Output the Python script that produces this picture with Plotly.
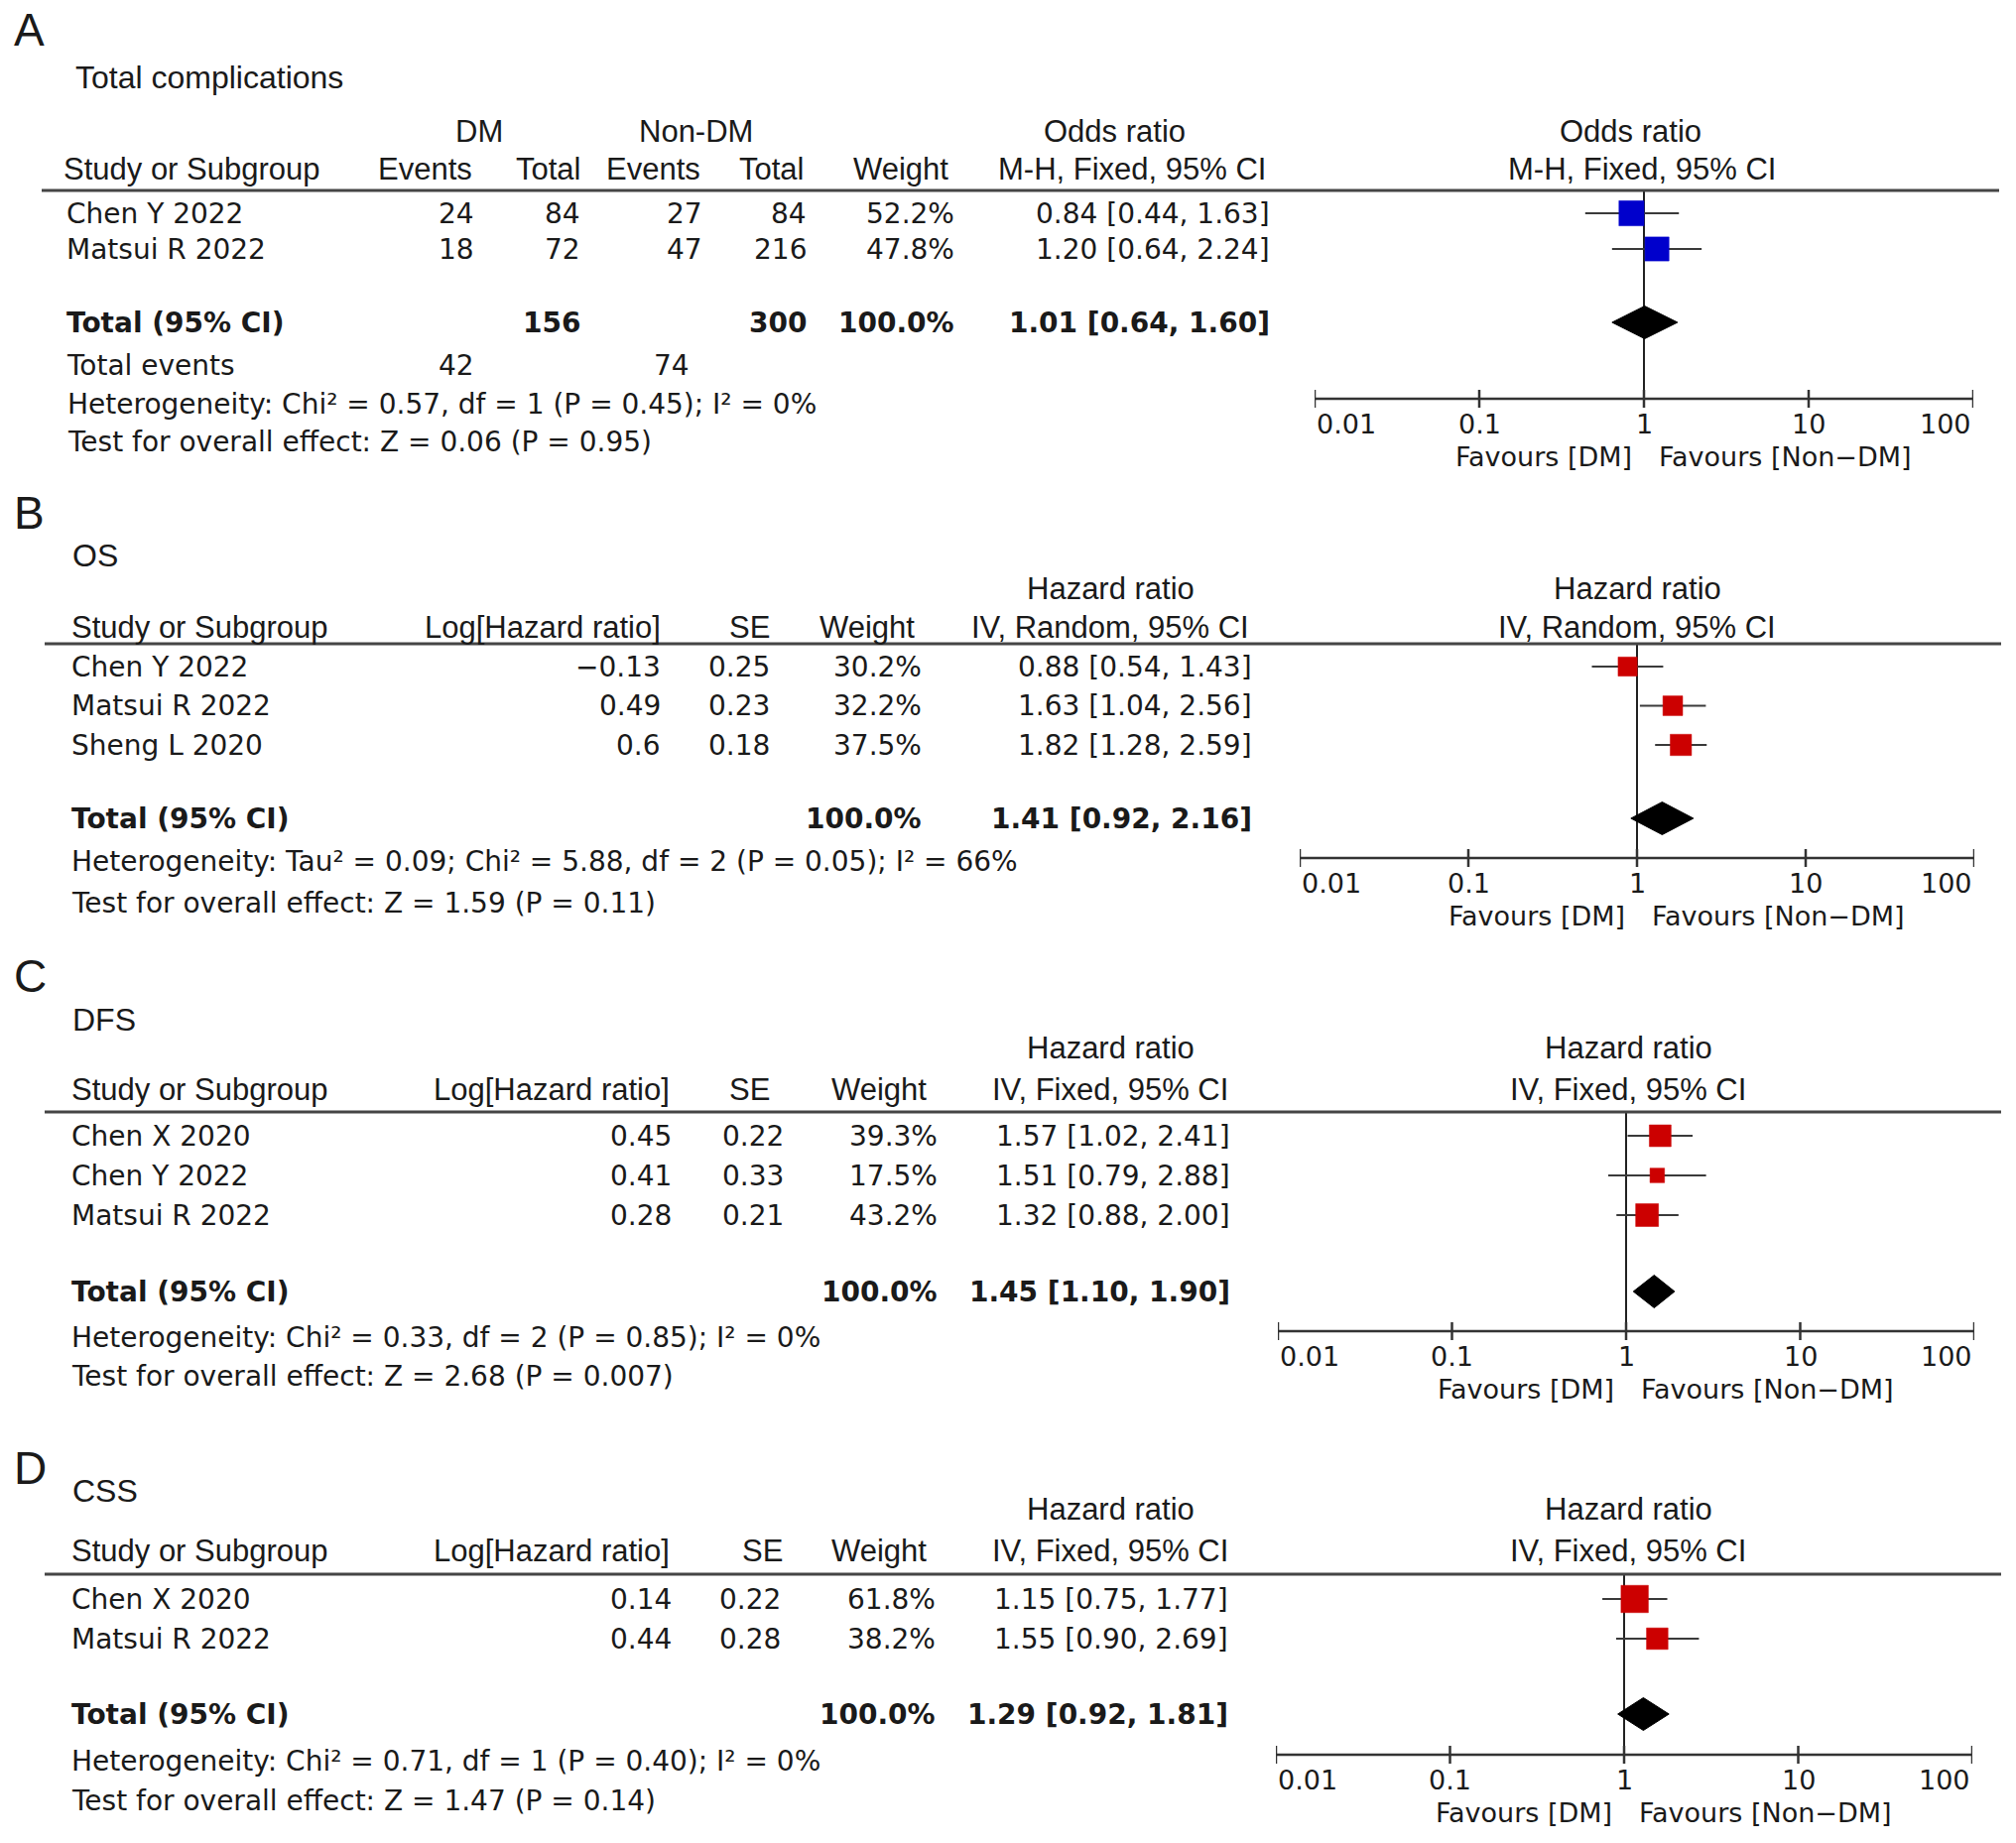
import math
import plotly.graph_objects as go

W, H = 2032, 1858

# ---------------- DATA ----------------
# Panel A: Total complications (Odds ratio, M-H, Fixed)
a_studies = ["Chen Y 2022", "Matsui R 2022"]
a_dm_events = [24, 18]
a_dm_total = [84, 72]
a_ndm_events = [27, 47]
a_ndm_total = [84, 216]
a_weight = [52.2, 47.8]
a_est = [0.84, 1.20]
a_lo = [0.44, 0.64]
a_hi = [1.63, 2.24]
a_pooled = [1.01, 0.64, 1.60]
a_total_n = [156, 300]
a_total_events = [42, 74]
a_het = "Heterogeneity: Chi² = 0.57, df = 1 (P = 0.45); I² = 0%"
a_test = "Test for overall effect: Z = 0.06 (P = 0.95)"

# Panel B: OS (Hazard ratio, IV, Random)
b_studies = ["Chen Y 2022", "Matsui R 2022", "Sheng L 2020"]
b_loghr = [-0.13, 0.49, 0.6]
b_se = [0.25, 0.23, 0.18]
b_weight = [30.2, 32.2, 37.5]
b_est = [0.88, 1.63, 1.82]
b_lo = [0.54, 1.04, 1.28]
b_hi = [1.43, 2.56, 2.59]
b_pooled = [1.41, 0.92, 2.16]
b_het = "Heterogeneity: Tau² = 0.09; Chi² = 5.88, df = 2 (P = 0.05); I² = 66%"
b_test = "Test for overall effect: Z = 1.59 (P = 0.11)"

# Panel C: DFS (Hazard ratio, IV, Fixed)
c_studies = ["Chen X 2020", "Chen Y 2022", "Matsui R 2022"]
c_loghr = [0.45, 0.41, 0.28]
c_se = [0.22, 0.33, 0.21]
c_weight = [39.3, 17.5, 43.2]
c_est = [1.57, 1.51, 1.32]
c_lo = [1.02, 0.79, 0.88]
c_hi = [2.41, 2.88, 2.00]
c_pooled = [1.45, 1.10, 1.90]
c_het = "Heterogeneity: Chi² = 0.33, df = 2 (P = 0.85); I² = 0%"
c_test = "Test for overall effect: Z = 2.68 (P = 0.007)"

# Panel D: CSS (Hazard ratio, IV, Fixed)
d_studies = ["Chen X 2020", "Matsui R 2022"]
d_loghr = [0.14, 0.44]
d_se = [0.22, 0.28]
d_weight = [61.8, 38.2]
d_est = [1.15, 1.55]
d_lo = [0.75, 0.90]
d_hi = [1.77, 2.69]
d_pooled = [1.29, 0.92, 1.81]
d_het = "Heterogeneity: Chi² = 0.71, df = 1 (P = 0.40); I² = 0%"
d_test = "Test for overall effect: Z = 1.47 (P = 0.14)"

tick_vals = [0.01, 0.1, 1, 10, 100]
tick_text = ["0.01", "0.1", "1", "10", "100"]
fav_left = "Favours [DM]"
fav_right = "Favours [Non\u2212DM]"

# ---------------- STYLE ----------------
TXT = "#1a1a1a"
ROWF = "DejaVu Sans"
HDRF = "Liberation Sans"
ROWS = 28
HDRS = 31
BLUE = "#0000CC"
RED = "#CC0000"

fig = go.Figure()
ann = []
shapes = []


def txt(x, y, s, anchor="left", size=ROWS, family=ROWF, bold=False):
    if bold:
        s = "<b>" + s + "</b>"
    ann.append(dict(x=x, y=y, xref="x", yref="y", text=s, showarrow=False,
                    xanchor=anchor, yanchor="middle",
                    font=dict(family=family, size=size, color=TXT)))


def fmt_num(v):
    return str(v).replace("-", "\u2212")


def ci_text(e, l, h):
    return f"{e:.2f} [{l:.2f}, {h:.2f}]"


def forest(ax_id, px0, px1, line_y, rows_y, total_y, axis_y, est, lo, hi, weight,
           pooled, color):
    xa = "x" + str(ax_id)
    key = "xaxis" + str(ax_id)
    fig.layout[key] = dict(type="log", range=[-2, 2], domain=[px0 / W, px1 / W],
                           anchor="y", visible=False, fixedrange=True)
    # null line
    fig.add_trace(go.Scatter(x=[1, 1], y=[line_y, axis_y], mode="lines",
                             line=dict(color="#222", width=2), xaxis=xa, yaxis="y",
                             hoverinfo="skip", showlegend=False))
    # CI lines
    cx, cy = [], []
    for l, h, y in zip(lo, hi, rows_y):
        cx += [l, h, None]
        cy += [y, y, None]
    fig.add_trace(go.Scatter(x=cx, y=cy, mode="lines",
                             line=dict(color="#3a3a3a", width=2.2), xaxis=xa, yaxis="y",
                             hoverinfo="skip", showlegend=False))
    # squares
    fig.add_trace(go.Scatter(x=est, y=rows_y, mode="markers", opacity=1,
                             marker=dict(symbol="square", color=color, opacity=1,
                                         size=[3.5 * math.sqrt(w) for w in weight],
                                         line=dict(width=0.5, color=color)),
                             xaxis=xa, yaxis="y", hoverinfo="skip", showlegend=False))
    # diamond
    pe, pl, ph = pooled
    hh = 16.5
    fig.add_trace(go.Scatter(x=[pl, pe, ph, pe, pl],
                             y=[total_y, total_y - hh, total_y, total_y + hh, total_y],
                             mode="lines", fill="toself", fillcolor="black",
                             line=dict(color="black", width=1), xaxis=xa, yaxis="y",
                             hoverinfo="skip", showlegend=False))
    # axis line
    fig.add_trace(go.Scatter(x=[tick_vals[0], tick_vals[-1]], y=[axis_y, axis_y],
                             mode="lines", line=dict(color="#333", width=2.5),
                             xaxis=xa, yaxis="y", hoverinfo="skip", showlegend=False))
    tx, ty = [], []
    for v in tick_vals:
        tx += [v, v, None]
        ty += [axis_y - 9, axis_y + 9, None]
    fig.add_trace(go.Scatter(x=tx, y=ty, mode="lines",
                             line=dict(color="#333", width=2.5),
                             xaxis=xa, yaxis="y", hoverinfo="skip", showlegend=False))
    # tick labels (annotations on a log axis take log10 positions)
    anchors = ["left"] + ["center"] * (len(tick_vals) - 2) + ["right"]
    for v, t, a in zip(tick_vals, tick_text, anchors):
        ann.append(dict(x=math.log10(v), y=axis_y + 25, xref=xa, yref="y", text=t,
                        showarrow=False, xanchor=a, yanchor="middle",
                        font=dict(family=ROWF, size=27, color=TXT)))
    # favours
    for s, anc, sh in [(fav_left, "right", -10), (fav_right, "left", 13)]:
        ann.append(dict(x=0, y=axis_y + 58, xref=xa, yref="y", text=s, showarrow=False,
                        xanchor=anc, yanchor="middle", xshift=sh,
                        font=dict(family=ROWF, size=27, color=TXT)))


def hline(y, x0, x1):
    shapes.append(dict(type="line", xref="x", yref="y", x0=x0, x1=x1, y0=y, y1=y,
                       line=dict(color="#454545", width=3)))


# ================= Panel A =================
txt(12, 30, "A", size=46, family=HDRF)
txt(74, 78, "Total complications", size=32, family=HDRF)
txt(483, 132, "DM", "center", HDRS, HDRF)
txt(701, 132, "Non-DM", "center", HDRS, HDRF)
txt(1123, 132, "Odds ratio", "center", HDRS, HDRF)
txt(1643, 132, "Odds ratio", "center", HDRS, HDRF)
y2 = 170
txt(62, y2, "Study or Subgroup", "left", HDRS, HDRF)
txt(478, y2, "Events", "right", HDRS, HDRF)
txt(587, y2, "Total", "right", HDRS, HDRF)
txt(708, y2, "Events", "right", HDRS, HDRF)
txt(812, y2, "Total", "right", HDRS, HDRF)
txt(958, y2, "Weight", "right", HDRS, HDRF)
txt(1278, y2, "M-H, Fixed, 95% CI", "right", HDRS, HDRF)
txt(1655, y2, "M-H, Fixed, 95% CI", "center", HDRS, HDRF)
hline(192, 42, 2015)
a_rows = [215 + 36 * i for i in range(len(a_studies))]
for i, y in enumerate(a_rows):
    txt(65, y, a_studies[i])
    txt(480, y, str(a_dm_events[i]), "right")
    txt(587, y, str(a_dm_total[i]), "right")
    txt(710, y, str(a_ndm_events[i]), "right")
    txt(815, y, str(a_ndm_total[i]), "right")
    txt(964, y, f"{a_weight[i]:.1f}%", "right")
    txt(1282, y, ci_text(a_est[i], a_lo[i], a_hi[i]), "right")
ty_ = 325
txt(65, ty_, "Total (95% CI)", bold=True)
txt(587, ty_, str(a_total_n[0]), "right", bold=True)
txt(815, ty_, str(a_total_n[1]), "right", bold=True)
txt(964, ty_, "100.0%", "right", bold=True)
txt(1282, ty_, ci_text(*a_pooled), "right", bold=True)
txt(65, 368, "Total events")
txt(480, 368, str(a_total_events[0]), "right")
txt(697, 368, str(a_total_events[1]), "right")
txt(66, 407, a_het)
txt(66, 445, a_test)
forest(2, 1325, 1989, 192, a_rows, ty_, 402, a_est, a_lo, a_hi, a_weight, a_pooled, BLUE)


# ================= Panels B-D =================
def hr_panel(letter, letter_y, title, title_y, h1, h2, method, line, rows0, step,
             total_y, het_y, test_y, cols, hcols, px0, px1, axis_y,
             studies, loghr, se, weight, est, lo, hi, pooled, het, test, ax_id):
    txt(12, letter_y, letter, size=46, family=HDRF)
    txt(71, title_y, title, size=32, family=HDRF)
    txt(hcols["hr"], h1, "Hazard ratio", "center", HDRS, HDRF)
    txt(hcols["fhr"], h1, "Hazard ratio", "center", HDRS, HDRF)
    txt(70, h2, "Study or Subgroup", "left", HDRS, HDRF)
    txt(hcols["log"], h2, "Log[Hazard ratio]", "right", HDRS, HDRF)
    txt(hcols["se"], h2, "SE", "right", HDRS, HDRF)
    txt(hcols["w"], h2, "Weight", "right", HDRS, HDRF)
    txt(hcols["hr"], h2, method, "center", HDRS, HDRF)
    txt(hcols["fhr"], h2, method, "center", HDRS, HDRF)
    hline(line, 45, 2017)
    rows = [rows0 + step * i for i in range(len(studies))]
    for i, y in enumerate(rows):
        txt(70, y, studies[i])
        txt(cols["log"], y, fmt_num(loghr[i]), "right")
        txt(cols["se"], y, fmt_num(se[i]), "right")
        txt(cols["w"], y, f"{weight[i]:.1f}%", "right")
        txt(cols["hr"], y, ci_text(est[i], lo[i], hi[i]), "right")
    txt(70, total_y, "Total (95% CI)", bold=True)
    txt(cols["w"], total_y, "100.0%", "right", bold=True)
    txt(cols["hr"], total_y, ci_text(*pooled), "right", bold=True)
    txt(70, het_y, het)
    txt(70, test_y, test)
    forest(ax_id, px0, px1, line, rows, total_y, axis_y, est, lo, hi, weight, pooled, RED)


hr_panel("B", 517, "OS", 560, 593, 632, "IV, Random, 95% CI", 649, 672, 39.5,
         825, 868, 910,
         dict(log=668, se=778, w=931, hr=1264),
         dict(log=668, se=778, w=924, hr=1119, fhr=1650),
         1310, 1990, 865,
         b_studies, b_loghr, b_se, b_weight, b_est, b_lo, b_hi, b_pooled, b_het, b_test, 3)

hr_panel("C", 984, "DFS", 1028, 1056, 1098, "IV, Fixed, 95% CI", 1121, 1145, 40,
         1302, 1348, 1387,
         dict(log=679, se=792, w=947, hr=1242),
         dict(log=677, se=778, w=936, hr=1119, fhr=1641),
         1288, 1990, 1342,
         c_studies, c_loghr, c_se, c_weight, c_est, c_lo, c_hi, c_pooled, c_het, c_test, 4)

hr_panel("D", 1480, "CSS", 1503, 1521, 1563, "IV, Fixed, 95% CI", 1587, 1612, 40,
         1728, 1775, 1815,
         dict(log=679, se=789, w=945, hr=1240),
         dict(log=677, se=791, w=936, hr=1119, fhr=1641),
         1286, 1988, 1769,
         d_studies, d_loghr, d_se, d_weight, d_est, d_lo, d_hi, d_pooled, d_het, d_test, 5)

fig.update_layout(
    width=W, height=H,
    margin=dict(l=0, r=0, t=0, b=0),
    paper_bgcolor="white", plot_bgcolor="rgba(0,0,0,0)",
    xaxis=dict(range=[0, W], domain=[0, 1], visible=False, fixedrange=True),
    yaxis=dict(range=[H, 0], domain=[0, 1], visible=False, fixedrange=True),
    showlegend=False,
    annotations=ann,
    shapes=shapes,
)

fig.write_html("out.html", post_script="document.body.style.margin='0';",
               config={"displayModeBar": False})
